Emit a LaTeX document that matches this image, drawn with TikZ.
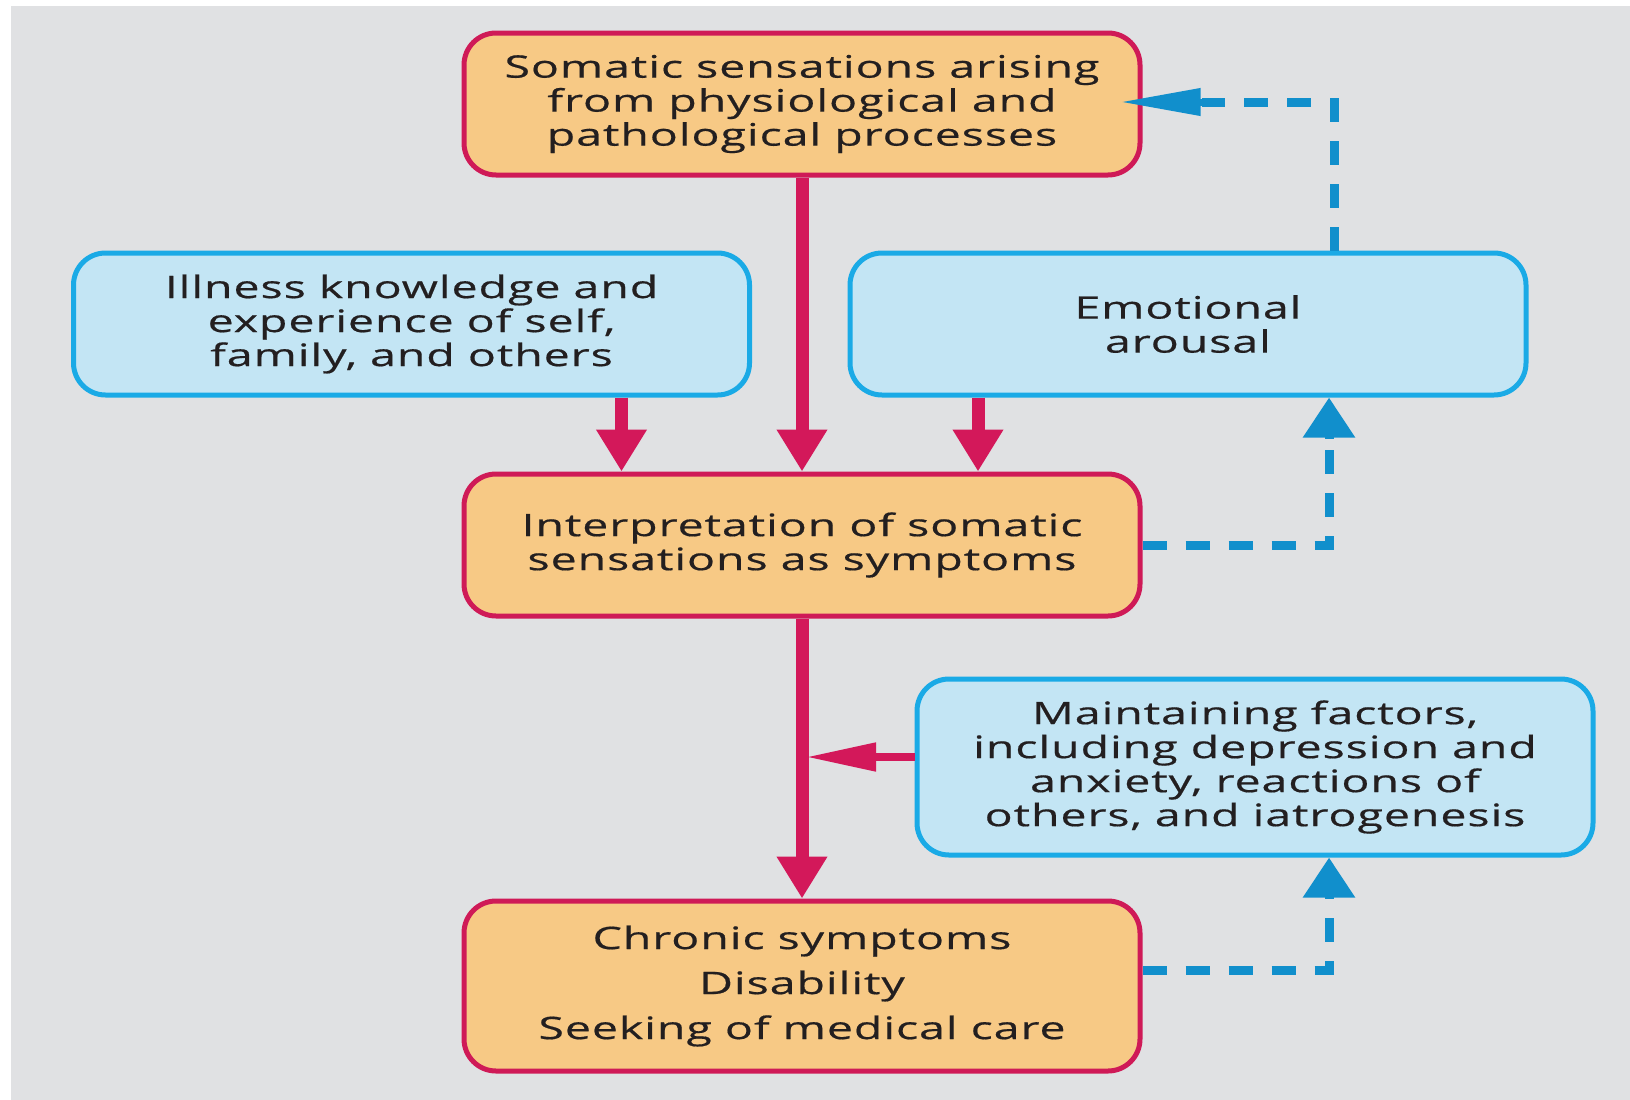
\documentclass[tikz,border=0pt]{standalone}
\usepackage{fontspec}
\setmainfont{Open Sans}[FakeStretch=1.5,LetterSpace=3,FakeBold=0.5]
\usetikzlibrary{arrows.meta}
\definecolor{bggray}{HTML}{E0E1E3}
\definecolor{orfill}{HTML}{F7C985}
\definecolor{orline}{HTML}{CF1A57}
\definecolor{blfill}{HTML}{C3E5F4}
\definecolor{blline}{HTML}{1AAAE6}
\definecolor{redarrow}{HTML}{D3185A}
\definecolor{bluearrow}{HTML}{118FCC}
\definecolor{txt}{HTML}{231F20}
\tikzset{
  box/.style={rounded corners=32pt, line width=5pt, minimum width=676pt, align=center,
    text=txt, font=\fontsize{31}{34}\selectfont, inner sep=0pt},
  orangebox/.style={box, draw=orline, fill=orfill, minimum height=142pt},
  bluebox/.style={box, draw=blline, fill=blfill, minimum height=142pt},
  redconn/.style={draw=redarrow, line width=13pt, -{Triangle[length=42pt,width=48pt]}},
  redside/.style={draw=redarrow, line width=8pt, -{Triangle[length=70pt,width=27pt]}},
  bluedash/.style={draw=bluearrow, line width=9pt, dash pattern=on 24pt off 19pt},
  bluevtip/.style={draw=bluearrow, line width=9pt, -{Triangle[length=40pt,width=50pt]}},
  bluehtip/.style={draw=bluearrow, line width=7pt, -{Triangle[length=80pt,width=26pt]}}
}
\begin{document}
\begin{tikzpicture}[x=1pt,y=-1pt]
\useasboundingbox (0,0) rectangle (1630,1100);
\fill[white] (0,0) rectangle (1630,1100);
\fill[bggray] (11,6) rectangle (1630,1100);

\node[orangebox] (top) at (802,104) {Somatic sensations arising\\from physiological and\\pathological processes};
\node[bluebox] (left) at (411.5,324) {Illness knowledge and\\experience of self,\\family, and others};
\node[bluebox] (emo) at (1188,324) {Emotional\\arousal};
\node[orangebox] (mid) at (802,545) {Interpretation of somatic\\sensations as symptoms};
\node[bluebox, minimum height=176pt] (maint) at (1255,767) {Maintaining factors,\\including depression and\\anxiety, reactions of\\others, and iatrogenesis};
\node[orangebox, minimum height=170pt, font=\fontsize{31}{45}\selectfont] (bot) at (802,986) {Chronic symptoms\\Disability\\Seeking of medical care};

\coordinate (junc) at (806,757);

\draw[redconn] (top.south) -- (mid.north);
\draw[redconn] ([xshift=210pt]left.south) -- ([xshift=210pt]left.south |- mid.north);
\draw[redconn] ([xshift=-210pt]emo.south) -- ([xshift=-210pt]emo.south |- mid.north);
\draw[redconn] (mid.south) -- (bot.north);
\draw[redside] (maint.west |- junc) -- (junc);

\draw[bluedash] ([xshift=146pt]emo.north) |- ([xshift=59pt,yshift=2pt]top.east);
\draw[bluehtip] ([xshift=59pt,yshift=2pt]top.east) -- ([xshift=-22pt,yshift=2pt]top.east);
\draw[bluedash] (mid.east) -| ([xshift=141pt,yshift=-40pt]emo.south);
\draw[bluevtip] ([xshift=141pt,yshift=-41pt]emo.south) -- ([xshift=141pt]emo.south);
\draw[bluedash] ([yshift=16pt]bot.east) -| ([xshift=74pt,yshift=-40pt]maint.south);
\draw[bluevtip] ([xshift=74pt,yshift=-41pt]maint.south) -- ([xshift=74pt]maint.south);
\end{tikzpicture}
\end{document}
